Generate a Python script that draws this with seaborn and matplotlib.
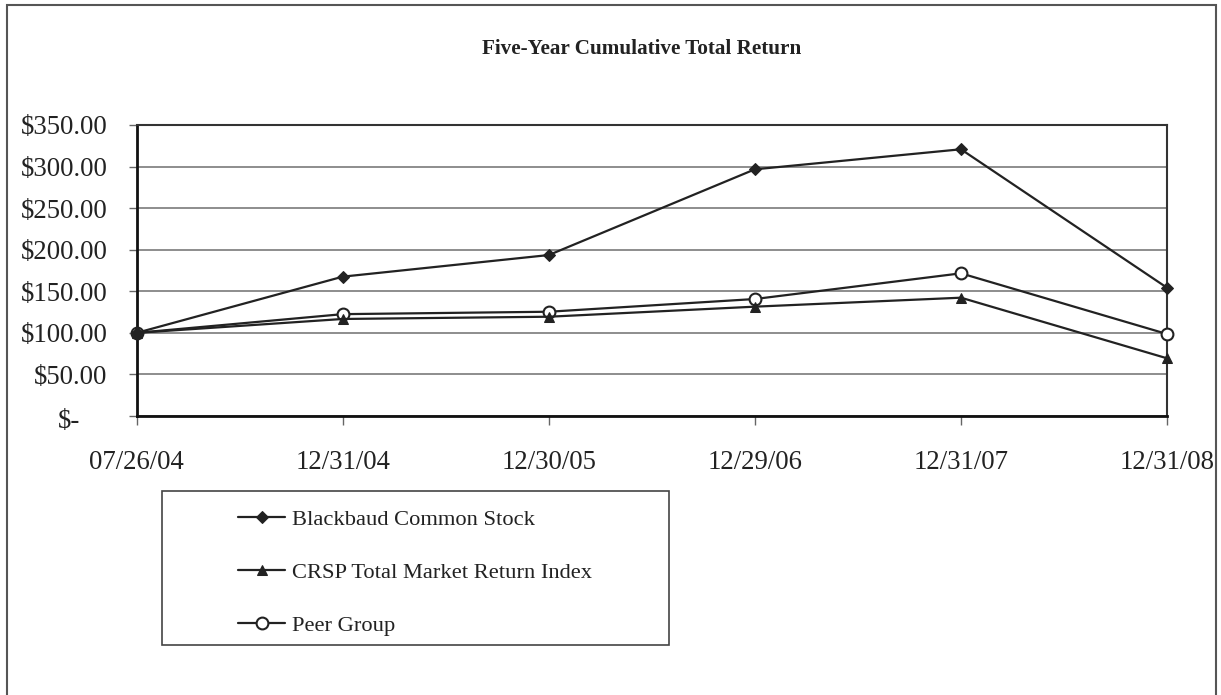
import matplotlib
matplotlib.use("Agg")
import matplotlib.pyplot as plt
import matplotlib.patches as mpatches
from matplotlib.transforms import ScaledTranslation
import pandas as pd
import seaborn as sns

dates = ["07/26/04", "12/31/04", "12/30/05", "12/29/06", "12/31/07", "12/31/08"]
blackbaud = [100.00, 167.6, 193.6, 296.7, 320.8, 154.3]
crsp = [100.00, 116.7, 119.4, 131.5, 142.3, 69.4]
peer = [100.00, 122.5, 125.4, 140.7, 171.6, 98.6]
series_names = [
    "Blackbaud Common Stock",
    "CRSP Total Market Return Index",
    "Peer Group",
]
y_ticks = [0, 50, 100, 150, 200, 250, 300, 350]
y_tick_labels = ["$-", "$50.00", "$100.00", "$150.00", "$200.00",
                 "$250.00", "$300.00", "$350.00"]

frames = []
for name, values in zip(series_names, [blackbaud, crsp, peer]):
    frames.append(pd.DataFrame({"pos": range(len(dates)), "value": values, "series": name}))
data = pd.concat(frames, ignore_index=True)

sns.set_style("white")
plt.rcParams["font.family"] = ["Liberation Serif", "DejaVu Serif"]
ink = "#222222"

fig = plt.figure(figsize=(12.21, 6.95), dpi=100)
ax = fig.add_axes([136.7 / 1221, 1 - 416 / 695, (1167 - 136.7) / 1221, (416 - 125) / 695])

marker_styles = {
    "Blackbaud Common Stock": dict(marker="D", markersize=6, markerfacecolor=ink),
    "CRSP Total Market Return Index": dict(marker="^", markersize=7.5, markerfacecolor=ink),
    "Peer Group": dict(marker="o", markersize=8.5, markerfacecolor="white",
                       markeredgewidth=1.5),
}
# peer group drawn first so the filled markers sit on top where they overlap
for name in reversed(series_names):
    sns.lineplot(
        data=data[data["series"] == name],
        x="pos",
        y="value",
        color=ink,
        linewidth=1.6,
        markeredgecolor=ink,
        legend=False,
        clip_on=False,
        zorder=3,
        ax=ax,
        **marker_styles[name],
    )

ax.set_xlim(0, len(dates) - 1)
ax.set_ylim(0, 350)
ax.set_xticks(range(len(dates)))
ax.set_xticklabels(dates)
ax.set_yticks(y_ticks)
ax.set_yticklabels(y_tick_labels)
ax.set_xlabel("")
ax.set_ylabel("")
ax.yaxis.grid(True, color="#7a7a7a", linewidth=1.2)
ax.set_axisbelow(True)
for side in ["top", "right"]:
    ax.spines[side].set_color("#333333")
    ax.spines[side].set_linewidth(1.5)
for side in ["left", "bottom"]:
    ax.spines[side].set_color("#111111")
    ax.spines[side].set_linewidth(2)
ax.tick_params(axis="y", direction="out", length=6, width=1, color="#666666",
               labelsize=19.3, labelcolor=ink, pad=15, left=True)
ax.tick_params(axis="x", direction="out", length=6.5, width=1, color="#666666",
               labelsize=19.3, labelcolor=ink, pad=18, bottom=True)

# accounting-style "$-" sits further left than the other labels
zero_label = ax.get_yticklabels()[0]
zero_label.set_transform(zero_label.get_transform()
                         + ScaledTranslation(-0.27, -0.03, fig.dpi_scale_trans))

fig.text(642 / 1221, 1 - 49 / 695, "Five-Year Cumulative Total Return",
         ha="center", va="center", fontsize=15.2, fontweight="bold", color=ink)

handles = list(reversed(ax.get_lines()[:3]))
fig.legend(
    handles,
    series_names,
    loc="upper left",
    bbox_to_anchor=(238 / 1221, 1 - 509 / 695),
    frameon=False,
    fontsize=16.2,
    labelcolor=ink,
    borderpad=0,
    borderaxespad=0,
    handlelength=2.1,
    handletextpad=0.3,
    labelspacing=1.43,
)

fig.add_artist(mpatches.Rectangle(
    (162 / 1221, 1 - 645 / 695), (669 - 162) / 1221, (645 - 491) / 695,
    transform=fig.transFigure, fill=False, edgecolor="#444444", linewidth=1.2))
fig.add_artist(mpatches.Rectangle(
    (7 / 1221, -0.02), (1216 - 7) / 1221, 1.02 - 4.5 / 695,
    transform=fig.transFigure, fill=False, edgecolor="#555555", linewidth=1.5))

fig.savefig("out.png", dpi=100)
plt.close(fig)
